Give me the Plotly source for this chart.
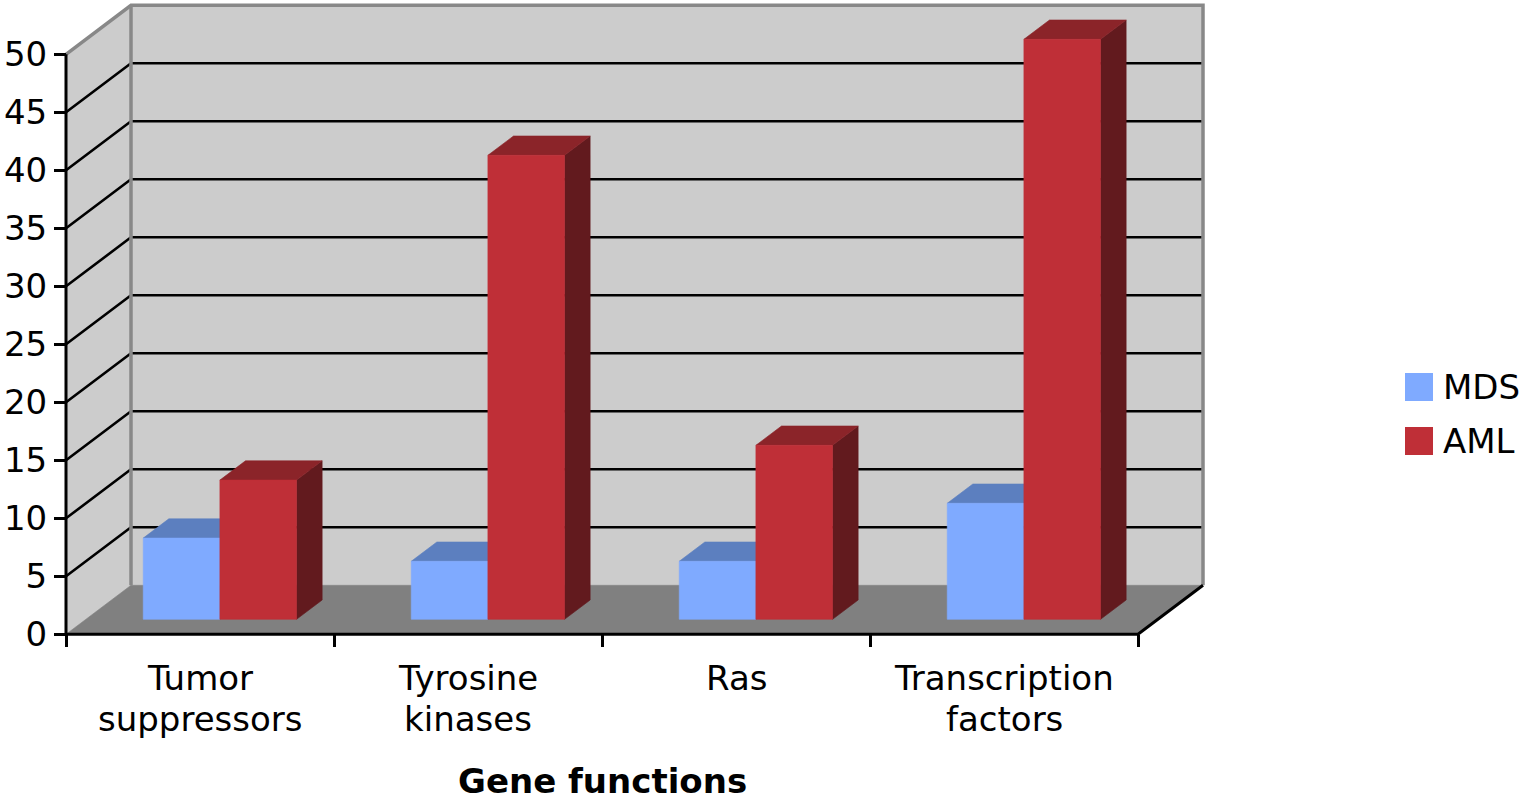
import plotly.graph_objects as go

# ---- data ----
categories = ["Tumor suppressors", "Tyrosine kinases", "Ras", "Transcription factors"]
series_names = ["MDS", "AML"]
mds_values = [7, 5, 5, 10]
aml_values = [12, 40, 15, 50]
y_ticks = [0, 5, 10, 15, 20, 25, 30, 35, 40, 45, 50]
x_title = "Gene functions"

# ---- look ----
FONT = "DejaVu Sans"
FS = 34
W, H = 1523, 800
X0, Y0 = 66, 634.3          # pixel spot of the front-left corner (value 0)
PX_CAT = 268.0              # px per category
PX_VAL = 11.6               # px per value unit
DEPTH_PX = (65, 49)         # offset from front plane to back wall, px
DX = DEPTH_PX[0] / PX_CAT
DV = DEPTH_PX[1] / PX_VAL
VMAX = y_ticks[-1]
BAR_W = 0.286
D0, D1 = 15 / 49, 0.70      # bar depth (front, back) as fraction of the box

colors = {
    "MDS": dict(front="#7faaff", top="#5c7fbf", side="#3f5c99"),
    "AML": dict(front="#bf2f37", top="#8b2429", side="#621a1e"),
}
WALL = "#cccccc"
FLOOR = "#808080"
EDGE = "#888888"


def proj(u, v, d):
    # oblique projection: depth d (0 front .. 1 back) shifts up and right
    return u + d * DX, v + d * DV


def poly(pts, color):
    xs = [p[0] for p in pts] + [pts[0][0]]
    ys = [p[1] for p in pts] + [pts[0][1]]
    return go.Scatter(x=xs, y=ys, mode="lines", fill="toself", fillcolor=color,
                      line=dict(color=color, width=0.6), hoverinfo="skip",
                      showlegend=False)


def path(segments, color, width):
    xs, ys = [], []
    for seg in segments:
        xs += [p[0] for p in seg] + [None]
        ys += [p[1] for p in seg] + [None]
    return go.Scatter(x=xs, y=ys, mode="lines", line=dict(color=color, width=width),
                      hoverinfo="skip", showlegend=False)


n = len(categories)
fig = go.Figure()

# walls and floor
fig.add_trace(poly([proj(0, 0, 0), proj(0, 0, 1), proj(0, VMAX, 1), proj(0, VMAX, 0)], WALL))
fig.add_trace(poly([proj(0, 0, 1), proj(n, 0, 1), proj(n, VMAX, 1), proj(0, VMAX, 1)], WALL))
fig.add_trace(poly([proj(0, 0, 0), proj(n, 0, 0), proj(n, 0, 1), proj(0, 0, 1)], FLOOR))

# gridlines on side + back wall
grid = [[proj(0, t, 0), proj(0, t, 1), proj(n, t, 1)] for t in y_ticks if 0 < t < VMAX]
fig.add_trace(path(grid, "black", 2.6))

# wall borders
fig.add_trace(path([
    [proj(0, VMAX, 0), proj(0, VMAX, 1), proj(n, VMAX, 1), proj(n, 0, 1)],
    [proj(0, 0, 1), proj(0, VMAX, 1)],
], EDGE, 3.5))

# bars
for i in range(n):
    for s, (name, vals) in enumerate(zip(series_names, [mds_values, aml_values])):
        c = colors[name]
        u0 = i + 0.5 - BAR_W + s * BAR_W
        u1 = u0 + BAR_W
        v = vals[i]
        fig.add_trace(poly([proj(u1, 0, D0), proj(u1, 0, D1), proj(u1, v, D1), proj(u1, v, D0)], c["side"]))
        fig.add_trace(poly([proj(u0, v, D0), proj(u1, v, D0), proj(u1, v, D1), proj(u0, v, D1)], c["top"]))
        fig.add_trace(poly([proj(u0, 0, D0), proj(u1, 0, D0), proj(u1, v, D0), proj(u0, v, D0)], c["front"]))

# front axis lines
fig.add_trace(path([[proj(0, 0, 0), proj(0, VMAX, 0)]], "black", 3))
fig.add_trace(path([[proj(0, 0, 0), proj(n, 0, 0), proj(n, 0, 1)]], "black", 3))

# category labels, one annotation per line
LINE1, LINE_GAP = 678, 41
for i, cat in enumerate(categories):
    for j, word in enumerate(cat.split(" ")):
        fig.add_annotation(x=i + 0.5, y=(Y0 - (LINE1 + j * LINE_GAP)) / PX_VAL,
                           xref="x", yref="y", text=word, showarrow=False,
                           xanchor="center", yanchor="middle",
                           font=dict(family=FONT, size=FS, color="black"))
fig.add_annotation(x=n / 2, y=(Y0 - 781) / PX_VAL, xref="x", yref="y",
                   text="<b>%s</b>" % x_title, showarrow=False,
                   xanchor="center", yanchor="middle",
                   font=dict(family=FONT, size=FS, color="black"))

# legend
for k, name in enumerate(series_names):
    top = 373 + k * 54
    fig.add_shape(type="rect", xref="paper", yref="paper",
                  x0=1405 / W, x1=1433 / W, y0=1 - (top + 28) / H, y1=1 - top / H,
                  fillcolor=colors[name]["front"], line=dict(width=0))
    fig.add_annotation(x=1441 / W, y=1 - (top + 14) / H, xref="paper", yref="paper",
                       text=name, showarrow=False, xanchor="left", yanchor="middle",
                       font=dict(family=FONT, size=FS, color="black"))

fig.update_layout(
    width=W, height=H, autosize=False,
    margin=dict(l=0, r=0, t=0, b=0),
    paper_bgcolor="white", plot_bgcolor="white",
    showlegend=False,
    xaxis=dict(range=[-X0 / PX_CAT, (W - X0) / PX_CAT], showgrid=False, zeroline=False,
               showline=False, tickvals=list(range(n + 1)), ticks="outside",
               ticklen=12, tickwidth=3, tickcolor="black", showticklabels=False,
               anchor="free", position=(H - Y0) / H, fixedrange=True),
    yaxis=dict(range=[(Y0 - H) / PX_VAL, Y0 / PX_VAL], showgrid=False, zeroline=False,
               showline=False, tickvals=y_ticks, ticks="outside", ticklen=12,
               tickwidth=3, tickcolor="black", anchor="free", position=X0 / W,
               tickfont=dict(family=FONT, size=FS, color="black"), fixedrange=True),
)

# page body has an 8px default margin; drop it so the figure sits at 0,0
fig.write_html("out.html", config={"displayModeBar": False},
               post_script="document.body.style.margin='0';")
